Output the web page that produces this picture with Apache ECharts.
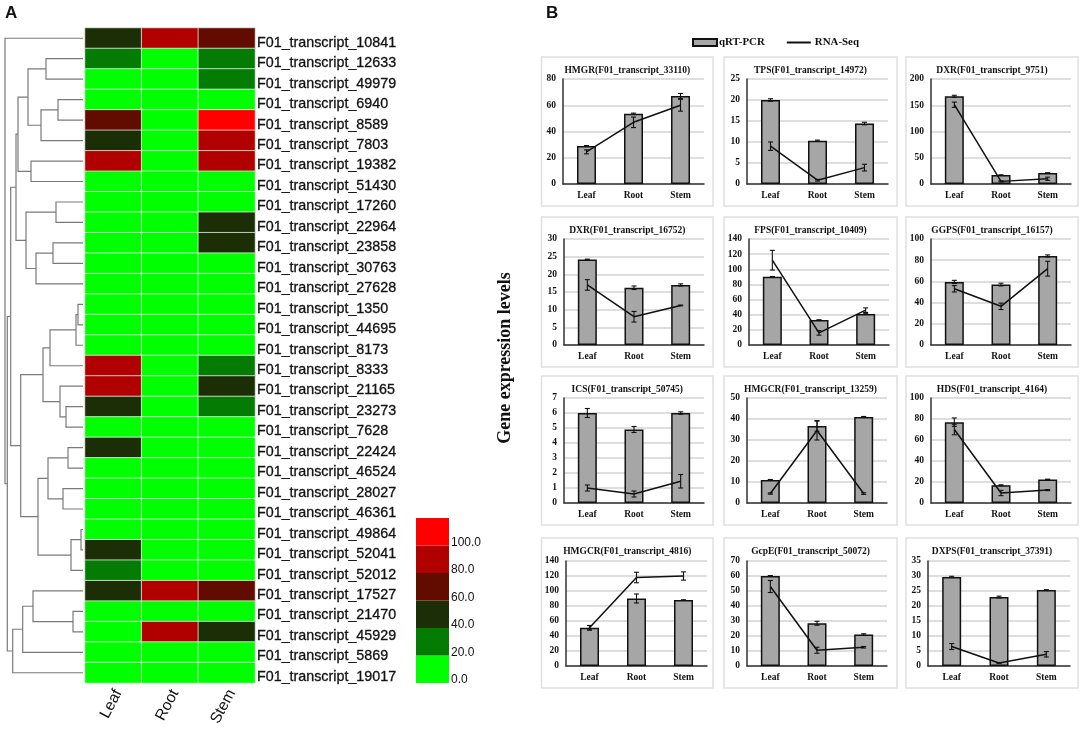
<!DOCTYPE html>
<html><head><meta charset="utf-8">
<script src="https://cdn.jsdelivr.net/npm/echarts@6/dist/echarts.min.js"></script>
<style>html,body{margin:0;padding:0;background:#fff}#c{width:1084px;height:729px}</style>
</head><body><div id="c"></div>
<script>
const tissues = ['Leaf','Root','Stem'];
const transcripts = ['10841','12633','49979','6940','8589','7803','19382','51430','17260','22964','23858','30763','27628','1350','44695','8173','8333','21165','23273','7628','22424','46524','28027','46361','49864','52041','52012','17527','21470','45929','5869','19017'].map(s=>'F01_transcript_'+s);
const leafValues = [50,30,0,0,70,50,90,0,0,0,0,0,0,0,0,0,90,90,50,0,50,0,0,0,0,50,30,50,0,0,0,0];
const rootValues = [90,0,0,0,0,0,0,0,0,0,0,0,0,0,0,0,0,0,0,0,0,0,0,0,0,0,0,90,0,90,0,0];
const stemValues = [70,30,30,0,110,90,90,0,0,50,50,0,0,0,0,0,30,50,30,0,0,0,0,0,0,0,0,70,0,50,0,0];
const binStarts = [0,20,40,60,80,100];
const binColors = ['#00ff00','#047c04','#1c2e06','#620c00','#b00000','#ff0000'];
// Dendrogram: [merge position, child, child]; a number is a row index
const clusterA = [16,[18,[28,[46,1,2],[41,[58,3,4],5]],[31,6,7]],[26,[56,8,9],[36,[53,10,11],12]]];
const clusterB = [20.7,[43,[50,[76,[78,13,14],15],16],[60,17,[66,18,19]]],[38,[48,[68,20,21],[63,22,23]],[71,[81,24,25],26]]];
const clusterC = [12.7,[22.7,[33,27,[73,28,29]],30],31];
const dendrogram = [5,0,[7.3,[10.7,clusterA,clusterB],clusterC]];
const leafEnd = 83;

const names = ['HMGR(F01_transcript_33110)','TPS(F01_transcript_14972)','DXR(F01_transcript_9751)','DXR(F01_transcript_16752)','FPS(F01_transcript_10409)','GGPS(F01_transcript_16157)','ICS(F01_transcript_50745)','HMGCR(F01_transcript_13259)','HDS(F01_transcript_4164)','HMGCR(F01_transcript_4816)','GcpE(F01_transcript_50072)','DXPS(F01_transcript_37391)'];
const yMax = [80,25,200,30,140,100,7,50,100,140,70,35];
const yStep = [20,5,50,5,20,20,1,10,20,20,10,5];
const qpcr = [[29,53.5,67],[20,10.3,14.4],[167,17,21],[24.2,16.2,17],[90,33,41],[59.5,57,84],[6,4.9,6],[11,36.7,41],[77,17,22.5],[51,90,88],[60,28.5,21],[29.7,23,25.3]];
const qpcrErr = [[0.3,0.5,2],[0.3,0.15,0.3],[2,0.5,0.5],[0.1,0.5,0.3],[0.5,0.3,0.3],[1.5,1.3,1],[0.3,0.2,0.08],[0.2,2.5,0.2],[4,0.3,0.2],[3,6,0.3],[0.3,1.3,0.5],[0.2,0.3,0.15]];
const rnaseq = [[24.5,47,60],[9,0.9,3.9],[151,5,10],[17,8,11.2],[112,16,46],[53,36.5,72],[1,0.6,1.45],[4.5,34.5,4.5],[70,9.5,12.3],[51,118,120],[53,10.5,12.5],[6.5,1,3.9]];
const rnaseqErr = [[1.5,4,4.5],[1,0.2,0.8],[5,1,3],[1.5,1.5,0.1],[13,3,3],[3,3,7],[0.2,0.2,0.45],[0.3,4.5,0.4],[5,2.5,0.5],[3,7,5.5],[4,2,0.5],[1,0.1,0.9]];

// Panel layout
const panelX = [[541.5,713],[724,897],[906,1078]];
const panelY = [[57,206],[217,367],[376,525],[538,688]];
const gridBox = [[563,704,79,184],[747,888,79,184],[931,1071,79,184],[564,704,239,345],[749,889,239,345],[931,1071,239,345],[564,704,398,503],[747,887,398,503],[931,1071,398,503],[566,707,561,666],[747,887,561,666],[928,1070,561,666]];

const serif = '"Liberation Serif","Times New Roman",serif';
const sans = '"Liberation Sans",Arial,sans-serif';

const grids=[],xAxes=[],yAxes=[],series=[],titles=[],graphics=[];

// dendrogram
const segs=[];
function walk(n){
  if(typeof n==='number') return {x:leafEnd,y:n+0.5};
  const a=walk(n[1]),b=walk(n[2]),y=(a.y+b.y)/2;
  segs.push({coords:[[a.x,a.y],[n[0],a.y],[n[0],b.y],[b.x,b.y]]});
  return {x:n[0],y};
}
walk(dendrogram);
grids.push({left:0,top:28,width:leafEnd,height:655});
xAxes.push({type:'value',gridIndex:0,min:0,max:leafEnd,show:false});
yAxes.push({type:'value',gridIndex:0,min:0,max:transcripts.length,inverse:true,show:false});
series.push({type:'lines',coordinateSystem:'cartesian2d',xAxisIndex:0,yAxisIndex:0,polyline:true,silent:true,
  lineStyle:{color:'#7a7a7a',width:1.2,opacity:1},data:segs,animation:false});

// heatmap
grids.push({left:85,top:28,width:170,height:655});
xAxes.push({type:'category',gridIndex:1,data:tissues,show:false});
yAxes.push({type:'category',gridIndex:1,data:transcripts,inverse:true,show:false});
const cells=[];
[leafValues,rootValues,stemValues].forEach((col,c)=>col.forEach((v,r)=>cells.push([c,r,v])));
series.push({type:'heatmap',name:'heat',xAxisIndex:1,yAxisIndex:1,data:cells,
  itemStyle:{borderColor:'rgba(235,245,235,0.75)',borderWidth:1}});

// colour scale
grids.push({left:416,top:518,width:33,height:165});
xAxes.push({type:'category',gridIndex:2,data:['scale'],show:false});
yAxes.push({type:'value',gridIndex:2,min:0,max:120,interval:20,show:false});
binStarts.forEach((b,i)=>series.push({type:'bar',name:'bin'+b,xAxisIndex:2,yAxisIndex:2,stack:'scale',barWidth:'100%',data:[20],itemStyle:{color:binColors[i]}}));

// heatmap and scale axis labels, nudged off the cell boundaries as in the figure
grids.push({left:90,top:32.5,width:170,height:655});
xAxes.push({type:'category',gridIndex:3,data:tissues,axisLine:{show:false},axisTick:{show:false},splitLine:{show:false},
  axisLabel:{rotate:62,fontFamily:sans,fontSize:15.5,color:'#111',margin:3.5,interval:0}});
yAxes.push({type:'category',gridIndex:3,data:transcripts,inverse:true,position:'right',axisLine:{show:false},axisTick:{show:false},splitLine:{show:false},
  axisLabel:{fontFamily:sans,fontSize:14.3,color:'#111',margin:-3,interval:0,textBorderColor:'#111',textBorderWidth:0.3}});
grids.push({left:416,top:515,width:33,height:165});
xAxes.push({type:'category',gridIndex:4,data:['scale'],show:false});
yAxes.push({type:'value',gridIndex:4,min:0,max:120,interval:20,position:'right',axisLine:{show:false},axisTick:{show:false},splitLine:{show:false},
  axisLabel:{fontFamily:sans,fontSize:12,color:'#111',margin:2,verticalAlign:'middle',formatter:v=>v>=120?'':v.toFixed(1)}});

// panels
const G0=5;
names.forEach((nm,i)=>{
  const g=i+G0,col=i%3,row=Math.floor(i/3),[l,r,t,b]=gridBox[i];
  grids.push({left:l,top:t,width:r-l,height:b-t});
  xAxes.push({type:'category',gridIndex:g,data:tissues,axisTick:{show:false},
    axisLine:{lineStyle:{color:'#333',width:1.5}},
    axisLabel:{fontFamily:serif,fontWeight:'bold',fontSize:9.5,color:'#111',margin:7,interval:0}});
  yAxes.push({type:'value',gridIndex:g,min:0,max:yMax[i],interval:yStep[i],
    axisLine:{show:true,lineStyle:{color:'#333',width:1.5}},axisTick:{show:false},
    splitLine:{lineStyle:{color:'#dedede',width:1.8}},
    axisLabel:{fontFamily:serif,fontWeight:'bold',fontSize:9.5,color:'#111',margin:7,
      showMinLabel:true,showMaxLabel:true}});
  const ax={xAxisIndex:g,yAxisIndex:g};
  series.push({type:'bar',name:'qRT-PCR',...ax,data:qpcr[i],barWidth:19,
    itemStyle:{color:'#a6a6a6',borderColor:'#111',borderWidth:1.5}});
  series.push({type:'line',name:'RNA-Seq',...ax,data:rnaseq[i],symbol:'none',z:4,
    itemStyle:{color:'#111'},lineStyle:{color:'#111',width:1.5}});
  const errs=[];
  tissues.forEach((c,k)=>{errs.push([c,qpcr[i][k],qpcrErr[i][k]]);errs.push([c,rnaseq[i][k],rnaseqErr[i][k]]);});
  series.push({type:'custom',name:'err'+i,...ax,z:5,clip:false,data:errs,encode:{x:0,y:1},
    renderItem:(p,api)=>{
      const lo=api.coord([api.value(0),api.value(1)-api.value(2)]);
      const hi=api.coord([api.value(0),api.value(1)+api.value(2)]);
      const x=lo[0],c=2.5;
      const st={stroke:'#111',lineWidth:1.1,fill:'none'};
      return {type:'group',children:[
        {type:'line',shape:{x1:x,y1:lo[1],x2:x,y2:hi[1]},style:st},
        {type:'line',shape:{x1:x-c,y1:lo[1],x2:x+c,y2:lo[1]},style:st},
        {type:'line',shape:{x1:x-c,y1:hi[1],x2:x+c,y2:hi[1]},style:st}]};
    }});
  const px=panelX[col],py=panelY[row];
  graphics.push({type:'rect',shape:{x:px[0],y:py[0],width:px[1]-px[0],height:py[1]-py[0]},
    style:{fill:'none',stroke:'#e0e0e0',lineWidth:1.5},silent:true});
  titles.push({text:nm,left:(px[0]+px[1])/2,top:py[0]+9,textAlign:'center',padding:0,
    textStyle:{fontFamily:serif,fontWeight:'bold',fontSize:9.5,color:'#111'}});
});

titles.push({text:'A',left:5,top:5,padding:0,textStyle:{fontFamily:sans,fontWeight:'bold',fontSize:17,color:'#111'}});
titles.push({text:'B',left:546,top:5,padding:0,textStyle:{fontFamily:sans,fontWeight:'bold',fontSize:17,color:'#111'}});
graphics.push({type:'text',x:505,y:358,rotation:Math.PI/2,silent:true,
  style:{text:'Gene expression levels',fontFamily:serif,fontWeight:'bold',fontSize:18,fill:'#111',align:'center',verticalAlign:'middle'}});

const chart=echarts.init(document.getElementById('c'),null,{renderer:'canvas'});
chart.setOption({
  animation:false,backgroundColor:'#fff',
  title:titles,grid:grids,xAxis:xAxes,yAxis:yAxes,series,
  graphic:graphics,
  visualMap:{type:'piecewise',show:false,seriesIndex:1,dimension:2,
    pieces:binStarts.map((b,i)=>({min:b,max:b+20,color:binColors[i]}))},
  legend:{left:692,top:37,itemWidth:24,itemHeight:7,itemGap:21,padding:0,
    data:[{name:'qRT-PCR',icon:'rect'},{name:'RNA-Seq',itemStyle:{opacity:0},textStyle:{padding:[0,0,0,-1]}}],
    textStyle:{fontFamily:serif,fontWeight:'bold',fontSize:10.9,color:'#111',padding:[0,0,0,-3]}}
});
</script></body></html>
